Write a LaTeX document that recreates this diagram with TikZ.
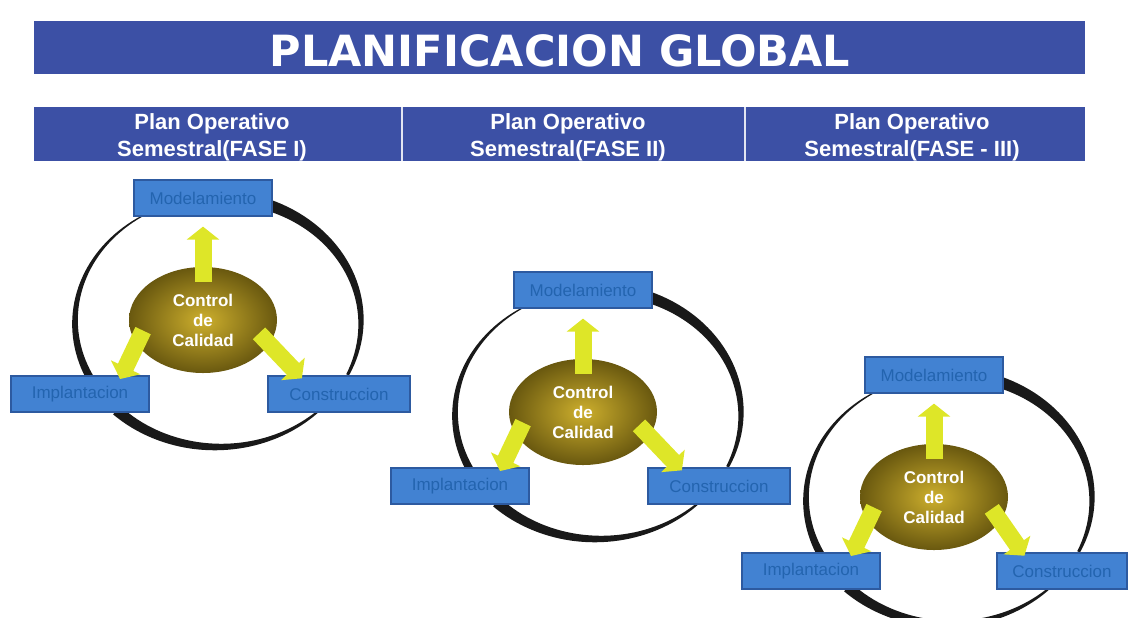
\documentclass[tikz,border=0pt]{standalone}
\usepackage{fontspec}
\setmainfont{Liberation Sans}
\newfontfamily\titulofont{DejaVu Sans}
\usetikzlibrary{arrows.meta}
\usetikzlibrary{shapes.geometric}

\definecolor{barra}{RGB}{60,80,165}
\definecolor{caja}{RGB}{66,130,210}
\definecolor{borde}{RGB}{45,90,160}
\definecolor{letra}{RGB}{35,100,175}
\definecolor{amarillo}{RGB}{222,230,40}
\definecolor{oro}{RGB}{205,175,45}
\definecolor{oliva}{RGB}{105,88,15}

\tikzset{
  fase/.style={text=white,align=center,font=\bfseries\fontsize{11}{13.5}\selectfont},
  etapa/.style={rectangle,fill=caja,draw=borde,line width=0.6pt,minimum width=69pt,minimum height=18pt,inner sep=0pt,text=letra,font=\fontsize{8.5}{10}\selectfont},
  calidad/.style={ellipse,minimum width=74pt,minimum height=53pt,inner sep=0pt,inner color=oro,outer color=oliva,text=white,align=center,font=\bfseries\fontsize{8.5}{10}\selectfont},
  flecha/.style={draw=amarillo,line width=8.5pt,-{Triangle[width=16pt,length=6.5pt]},shorten <=-7.5pt},
  anillo/.style={fill=black!90}
}

% trazo del ciclo: angulo inicial, angulo final, grosor inicial, grosor final
\newcommand{\trazo}[4]{%
  \fill[anillo] plot[domain=#1:#2,samples=40]
    ({218+(143+0.5*(#3+(#4-#3)*(\x-(#1))/((#2)-(#1))))*cos(\x)},{322+(125+0.5*(#3+(#4-#3)*(\x-(#1))/((#2)-(#1))))*sin(\x)})
    -- plot[domain=#2:#1,samples=40]
    ({218+(143-0.5*(#3+(#4-#3)*(\x-(#1))/((#2)-(#1))))*cos(\x)},{322+(125-0.5*(#3+(#4-#3)*(\x-(#1))/((#2)-(#1))))*sin(\x)})
    -- cycle;}
\newcommand{\ciclo}{\trazo{-75}{25}{12}{3}\trazo{45}{135}{2}{11}\trazo{150}{240}{8}{1}}

\begin{document}
\begin{tikzpicture}[x=0.5pt,y=-0.5pt]
\useasboundingbox (0,0) rectangle (1128,617);

% encabezados
\fill[barra] (34,21) rectangle (1085,74);
\fill[barra] (34,107) rectangle (1085,161);
\draw[white!85!barra,line width=0.6pt] (402,107) -- (402,161);
\draw[white!85!barra,line width=0.6pt] (745,107) -- (745,161);

\node[text=white,font=\titulofont\bfseries\fontsize{21.5}{24}\selectfont] (titulo) at (560,51) {PLANIFICACION GLOBAL};
\node[fase] (fase1) at (212,137) {Plan Operativo\\Semestral(FASE I)};
\node[fase] (fase2) at (568,137) {Plan Operativo\\Semestral(FASE II)};
\node[fase] (fase3) at (912,137) {Plan Operativo\\Semestral(FASE - III)};

% fase I
\begin{scope}
\ciclo
\node[etapa] (mod1) at (203,198) {Modelamiento};
\node[etapa] (imp1) at (80,394) {Implantacion};
\node[etapa,minimum width=71pt] (con1) at (339,394) {Construccion};
\node[calidad] (cal1) at (203,320) {Control\\de\\Calidad};
\draw[flecha,shorten >=5pt] (cal1.north) -- (mod1.south);
\draw[flecha,shorten >=-2pt] (cal1.200) -- (imp1.24);
\draw[flecha,shorten >=-2pt] (cal1.340) -- (con1.155);
\end{scope}

% fase II
\begin{scope}[shift={(380,92)}]
\ciclo
\node[etapa] (mod2) at (203,198) {Modelamiento};
\node[etapa] (imp2) at (80,394) {Implantacion};
\node[etapa,minimum width=71pt] (con2) at (339,394) {Construccion};
\node[calidad] (cal2) at (203,320) {Control\\de\\Calidad};
\draw[flecha,shorten >=5pt] (cal2.north) -- (mod2.south);
\draw[flecha,shorten >=-2pt] (cal2.200) -- (imp2.24);
\draw[flecha,shorten >=-2pt] (cal2.340) -- (con2.155);
\end{scope}

% fase III
\begin{scope}[shift={(731,177)}]
\ciclo
\node[etapa] (mod3) at (203,198) {Modelamiento};
\node[etapa] (imp3) at (80,394) {Implantacion};
\node[etapa,minimum width=65pt] (con3) at (331,394) {Construccion};
\node[calidad] (cal3) at (203,320) {Control\\de\\Calidad};
\draw[flecha,shorten >=5pt] (cal3.north) -- (mod3.south);
\draw[flecha,shorten >=-2pt] (cal3.200) -- (imp3.24);
\draw[flecha,shorten >=-2pt] (cal3.340) -- (con3.155);
\end{scope}
\end{tikzpicture}
\end{document}
